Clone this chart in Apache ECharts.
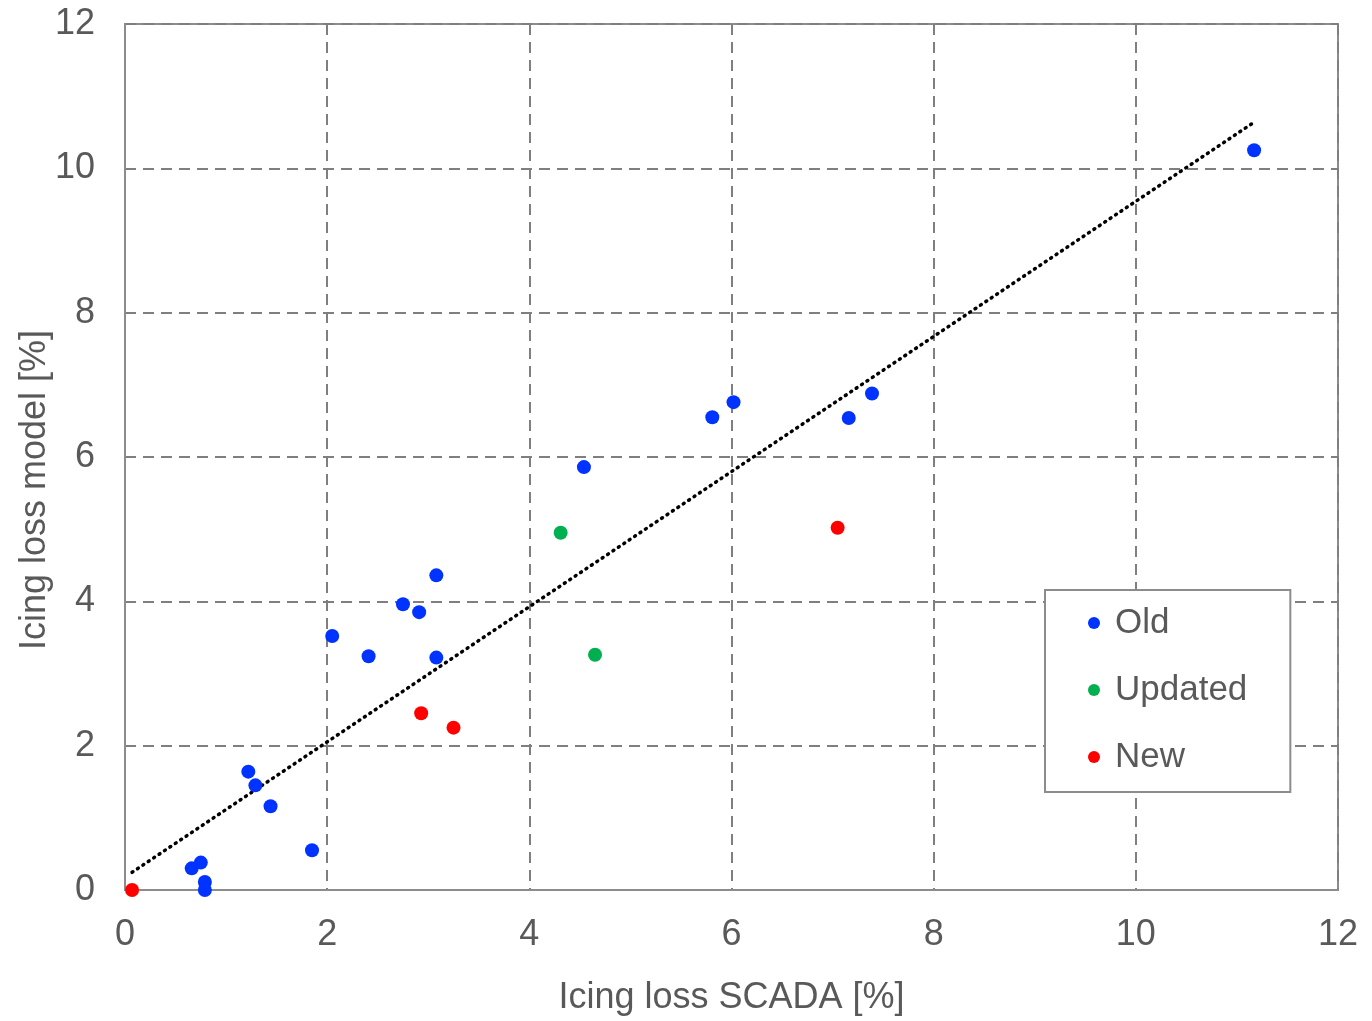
<!DOCTYPE html>
<html>
<head>
<meta charset="utf-8">
<script src="https://cdn.jsdelivr.net/npm/echarts@6/dist/echarts.min.js"></script>
<style>
  html, body { margin: 0; padding: 0; background: #fff; }
  #chart { width: 1372px; height: 1021px; }
</style>
</head>
<body>
<div id="chart"></div>
<script>
// points: [scada, model]
var oldPoints = [
	[0.66, 0.30], [0.75, 0.38], [0.79, 0.11], [0.79, 0.00],
	[1.22, 1.64], [1.29, 1.45], [1.44, 1.16], [1.85, 0.55],
	[2.05, 3.52], [2.41, 3.24], [2.75, 3.96], [2.91, 3.85],
	[3.08, 4.36], [3.08, 3.22], [4.54, 5.86], [5.81, 6.55],
	[6.02, 6.76], [7.16, 6.54], [7.39, 6.88], [11.17, 10.25]
];
var updatedPoints = [[4.31, 4.95], [4.65, 3.26]];
var newPoints = [[0.07, 0.00], [2.93, 2.45], [3.25, 2.25], [7.05, 5.02]];
var trendLine = [[0.07, 0.245], [11.15, 10.62]];
var axisTicks = [0, 2, 4, 6, 8, 10, 12];

var textColor = '#595959';
var fontName = 'Liberation Sans';

var chart = echarts.init(document.getElementById('chart'));

function axisCfg(name, isY) {
	return {
		type: 'value',
		min: axisTicks[0],
		max: axisTicks[axisTicks.length - 1],
		interval: 2,
		name: name,
		nameLocation: 'middle',
		nameGap: isY ? 72 : 90,
		nameMoveOverlap: false,
		nameTextStyle: {
			color: textColor, fontSize: 36, fontFamily: fontName,
			padding: isY ? [0, 66, 0, 0] : 0
		},
		axisLine: { show: true, onZero: false, lineStyle: { color: '#8c8c8c', width: 2 } },
		axisTick: { show: false },
		axisLabel: { color: textColor, fontSize: 36, fontFamily: fontName, margin: isY ? 30 : 27 },
		splitLine: { show: true, lineStyle: { color: '#7f7f7f', width: 2, type: [11, 7] } }
	};
}

var option = {
	animation: false,
	backgroundColor: '#fff',
	grid: {
		left: 125, right: 34, top: 24, bottom: 131,
		outerBoundsMode: 'none', containLabel: false,
		show: true, borderColor: '#8c8c8c', borderWidth: 2
	},
	xAxis: axisCfg('Icing loss SCADA [%]', false),
	yAxis: axisCfg('Icing loss model [%]', true),
	legend: {
		orient: 'vertical',
		left: 1045,
		top: 590,
		padding: [13, 43, 15, 43],
		backgroundColor: '#fff',
		borderColor: '#8c8c8c',
		borderWidth: 2,
		borderRadius: 0,
		itemWidth: 12,
		itemHeight: 12,
		itemGap: 27,
		icon: 'circle',
		data: ['Old', 'Updated', 'New'],
		textStyle: { color: textColor, fontSize: 35, fontFamily: fontName, lineHeight: 40, padding: [0, 0, 0, 10] }
	},
	series: [
		{
			name: 'trend', type: 'line', data: trendLine, symbol: 'none', z: 1,
			lineStyle: { color: '#000', width: 3.5, type: [1, 5.5], cap: 'round' }
		},
		{ name: 'Old', type: 'scatter', data: oldPoints, symbolSize: 14, itemStyle: { color: '#0033ff', opacity: 1 }, z: 3 },
		{ name: 'Updated', type: 'scatter', data: updatedPoints, symbolSize: 14, itemStyle: { color: '#00b050', opacity: 1 }, z: 3 },
		{ name: 'New', type: 'scatter', data: newPoints, symbolSize: 14, itemStyle: { color: '#ff0000', opacity: 1 }, z: 3 }
	]
};

chart.setOption(option);
</script>
</body>
</html>
